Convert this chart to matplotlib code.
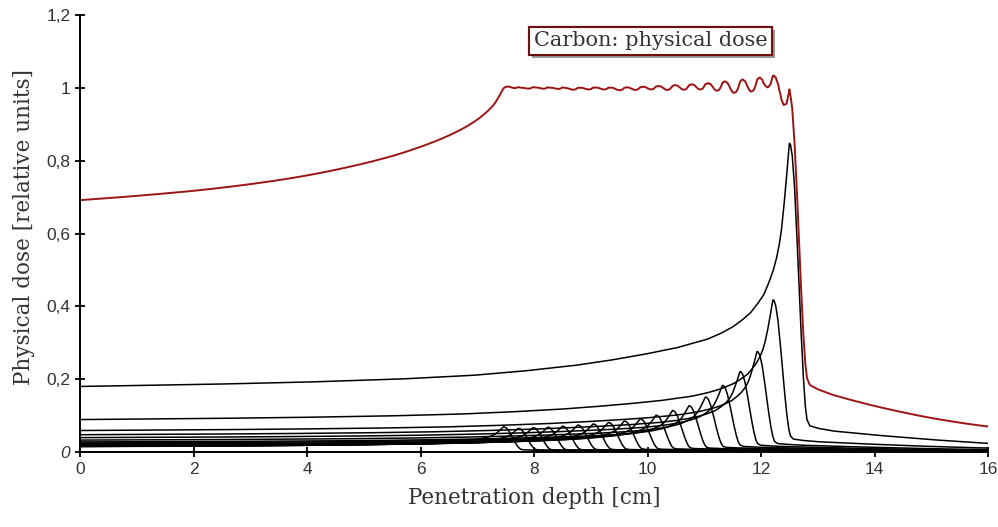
import numpy as np
import matplotlib
matplotlib.use("Agg")
import matplotlib.pyplot as plt
from matplotlib import patheffects

# ============================================================
# Data
# ============================================================
# single Bragg peaks: peak depth [cm] and peak height
PEAK_DEPTH = [12.50, 12.21, 11.93, 11.63, 11.32, 11.02, 10.73, 10.44, 10.15,
              9.87, 9.59, 9.31, 9.04, 8.77, 8.50, 8.24, 7.98, 7.72, 7.46]
PEAK_HEIGHT = [0.848, 0.418, 0.276, 0.221, 0.183, 0.151, 0.127, 0.114, 0.101,
               0.091, 0.085, 0.081, 0.077, 0.074, 0.071, 0.068, 0.067, 0.065, 0.069]

# shape of one Bragg curve, read off the deepest peak
# (offset from the peak [cm], dose relative to the peak)
BRAGG_U = [-12.6, -10.3, -8.6, -6.9, -5.6, -4.7, -3.8, -3.2, -2.6, -2.0,
           -1.45, -1.2, -1.0, -0.85, -0.69, -0.57, -0.45, -0.37, -0.29, -0.23,
           -0.18, -0.14, -0.10, -0.05, -0.02, 0.0, 0.02, 0.05, 0.09, 0.13,
           0.19, 0.24, 0.28, 0.31, 0.36, 0.5, 0.77, 1.5, 2.5, 3.5, 5.5, 9.0]
BRAGG_F = [0.212, 0.219, 0.226, 0.236, 0.248, 0.262, 0.280, 0.296, 0.315, 0.337,
           0.365, 0.385, 0.405, 0.425, 0.450, 0.478, 0.510, 0.545, 0.585, 0.625,
           0.670, 0.720, 0.790, 0.890, 0.960, 1.000, 0.995, 0.960, 0.860, 0.710,
           0.450, 0.260, 0.150, 0.105, 0.085, 0.077, 0.068, 0.055, 0.040, 0.028,
           0.018, 0.008]

X_TICKS = [0, 2, 4, 6, 8, 10, 12, 14, 16]
Y_TICKS = [0, 0.2, 0.4, 0.6, 0.8, 1.0, 1.2]
Y_LABELS = ["0", "0,2", "0,4", "0,6", "0,8", "1", "1,2"]

RED = "#9c1414"
TEXT = "#333333"

# ============================================================
# Figure
# ============================================================
fig = plt.figure(figsize=(9.98, 5.27), dpi=100)
ax = fig.add_axes([0.0802, 0.1423, 0.9098, 0.829])

depth = np.linspace(0, 16, 3201)
total = np.zeros_like(depth)
for r, h in zip(PEAK_DEPTH, PEAK_HEIGHT):
    dose = h * np.interp(depth - r, BRAGG_U, BRAGG_F)
    total += dose
    ax.plot(depth, dose, color="black", lw=1.1)

# spread-out peak = sum of the single peaks
ax.plot(depth, total, color=RED, lw=1.4)

# legend box
txt = ax.text(10.06, 1.129, "Carbon: physical dose", fontsize=15,
              family="DejaVu Serif", color=TEXT, ha="center", va="center",
              bbox=dict(boxstyle="square,pad=0.22", fc="white",
                        ec="#6e1010", lw=1.5))
txt.get_bbox_patch().set_path_effects(
    [patheffects.withSimplePatchShadow(offset=(2, -2), shadow_rgbFace="0.5",
                                       alpha=0.8),
     patheffects.Normal()])

# axes
ax.set_xlim(0, 16)
ax.set_ylim(0, 1.2)
ax.set_xticks(X_TICKS)
ax.set_yticks(Y_TICKS)
ax.set_yticklabels(Y_LABELS)
ax.tick_params(direction="inout", length=7, width=1.3, labelsize=12.5,
               labelcolor=TEXT)
for lab in ax.get_xticklabels() + ax.get_yticklabels():
    lab.set_family("Liberation Sans")
ax.get_yticklabels()[0].set_style("italic")

for side in ["top", "right"]:
    ax.spines[side].set_visible(False)
for side in ["left", "bottom"]:
    ax.spines[side].set_linewidth(1.4)

ax.set_xlabel("Penetration depth [cm]", fontsize=15.5, family="DejaVu Serif",
              color=TEXT)
ax.set_ylabel("Physical dose [relative units]", fontsize=15.5,
              family="DejaVu Serif", color=TEXT)
ax.xaxis.set_label_coords(0.5, -0.08)
ax.yaxis.set_label_coords(-0.05, 0.515)

fig.savefig("out.png", dpi=100)
